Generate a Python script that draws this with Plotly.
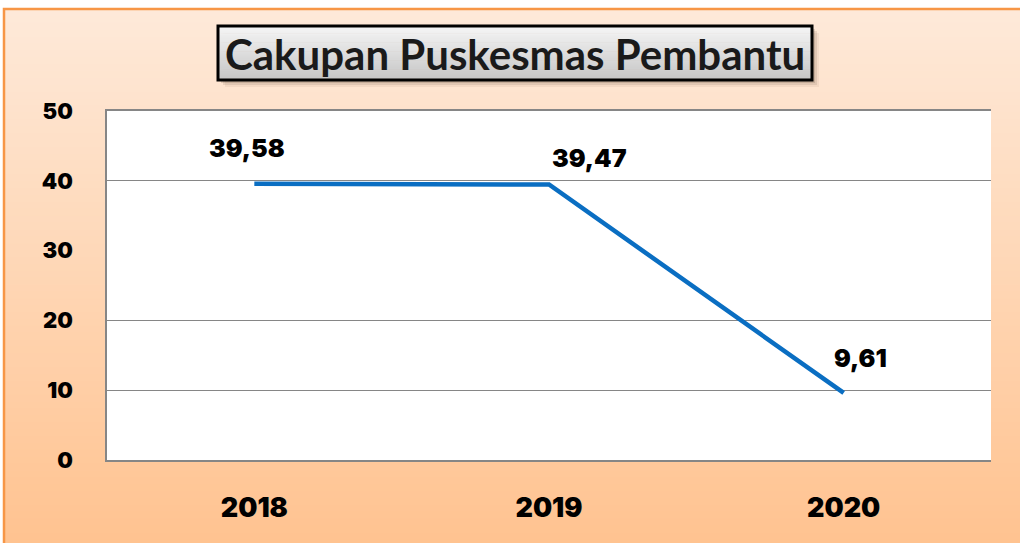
import plotly.graph_objects as go

# ---- data ----
years = ["2018", "2019", "2020"]
coverage = [39.58, 39.47, 9.61]
y_ticks = [0, 10, 20, 30, 40, 50]
grid_vals = [10, 20, 40]
title_text = "Cakupan Puskesmas Pembantu"

# ---- styling / layout helpers ----
W, H = 1020, 543
PL, PR, PT, PB = 107, 991, 111, 460  # plot area in pixels


def px_x(px):
    return (px - PL) / (PR - PL)


def px_y(py):
    return (PB - py) / (PB - PT)


def lerp(c0, c1, t):
    return "rgb(%d,%d,%d)" % tuple(round(a + (b - a) * t) for a, b in zip(c0, c1))


shapes = []
# orange gradient background
top_c, bot_c = (254, 233, 217), (255, 194, 142)
n = 80
y_top, y_bot = 9, 560
for i in range(n):
    a = y_top + (y_bot - y_top) * i / n
    b = y_top + (y_bot - y_top) * (i + 1) / n + 0.8
    shapes.append(dict(type="rect", xref="paper", yref="paper", layer="below",
                       x0=px_x(4), x1=px_x(1040), y0=px_y(b), y1=px_y(a),
                       fillcolor=lerp(top_c, bot_c, i / (n - 1)), line_width=0))
# outer border
shapes.append(dict(type="rect", xref="paper", yref="paper", layer="below",
                   x0=px_x(4), x1=px_x(1040), y0=px_y(560), y1=px_y(9),
                   line=dict(color="#F79646", width=2.5), fillcolor="rgba(0,0,0,0)"))
# white plot area
shapes.append(dict(type="rect", xref="paper", yref="paper", layer="below",
                   x0=0, x1=1, y0=0, y1=1, fillcolor="white", line_width=0))

# title box: shadow, gradient, border
bx0, bx1, by0, by1 = 218, 812, 26, 80
for k, op in [(7, 0.06), (5, 0.1), (3, 0.15)]:
    shapes.append(dict(type="rect", xref="paper", yref="paper", layer="below",
                       x0=px_x(bx0 + k), x1=px_x(bx1 + k), y0=px_y(by1 + k), y1=px_y(by0 + k),
                       fillcolor="rgba(60,40,20,%.2f)" % op, line_width=0))
g_top, g_bot = (245, 245, 245), (198, 198, 198)
m = 30
for i in range(m):
    a = by0 + (by1 - by0) * i / m
    b = by0 + (by1 - by0) * (i + 1) / m + 0.6
    shapes.append(dict(type="rect", xref="paper", yref="paper", layer="below",
                       x0=px_x(bx0), x1=px_x(bx1), y0=px_y(b), y1=px_y(a),
                       fillcolor=lerp(g_top, g_bot, i / (m - 1)), line_width=0))
shapes.append(dict(type="rect", xref="paper", yref="paper", layer="below",
                   x0=px_x(bx0), x1=px_x(bx1), y0=px_y(by1), y1=px_y(by0),
                   line=dict(color="black", width=3), fillcolor="rgba(0,0,0,0)"))

fig = go.Figure()
fig.add_trace(go.Scatter(x=years, y=coverage, mode="lines",
                         line=dict(color="#0A6EC2", width=4.5),
                         hoverinfo="skip", showlegend=False))
# invisible trace to activate grid axis
fig.add_trace(go.Scatter(x=years, y=coverage, yaxis="y2", mode="lines",
                         line=dict(width=0), hoverinfo="skip", showlegend=False))

NUM_FONT = "Inter"
label_offsets = [(-7, 36), (40, 27), (17, 35)]
annotations = []
for i, (v, (dx, dy)) in enumerate(zip(coverage, label_offsets)):
    annotations.append(dict(x=i, y=v, xref="x", yref="y",
                            xanchor="center", yanchor="middle",
                            text=f"{v:.2f}".replace(".", ","), showarrow=False,
                            xshift=dx, yshift=dy,
                            font=dict(family=NUM_FONT, size=25, color="black", weight=900)))
annotations.append(dict(x=px_x((bx0 + bx1) / 2), y=px_y((by0 + by1) / 2 + 1),
                        xref="paper", yref="paper", xanchor="center", yanchor="middle",
                        text=title_text, showarrow=False,
                        font=dict(family="Lato", size=42, color="#1a1a1a", weight="bold")))

fig.update_layout(
    width=W, height=H,
    margin=dict(l=PL, r=W - PR, t=PT, b=H - PB, pad=0),
    paper_bgcolor="white", plot_bgcolor="white",
    shapes=shapes, annotations=annotations,
    xaxis=dict(type="category", range=[-0.5, 2.5], showgrid=False,
               showline=True, linecolor="#868686", linewidth=1.5, mirror=True,
               ticks="", ticklabelstandoff=23,
               tickfont=dict(family=NUM_FONT, size=27, color="black", weight=900)),
    yaxis=dict(range=[0, 50], tickvals=y_ticks, showgrid=False, zeroline=False,
               showline=True, linecolor="#868686", linewidth=1.5,
               ticks="", ticklabelstandoff=28,
               tickfont=dict(family=NUM_FONT, size=22, color="black", weight=900)),
    yaxis2=dict(range=[0, 50], overlaying="y", side="left", tickvals=grid_vals,
                showticklabels=False, showgrid=True, gridcolor="#868686", gridwidth=1,
                zeroline=False, showline=False, ticks=""),
    showlegend=False,
)

fig.write_html("out.html", config={"displayModeBar": False},
               post_script="document.body.style.margin='0';")
